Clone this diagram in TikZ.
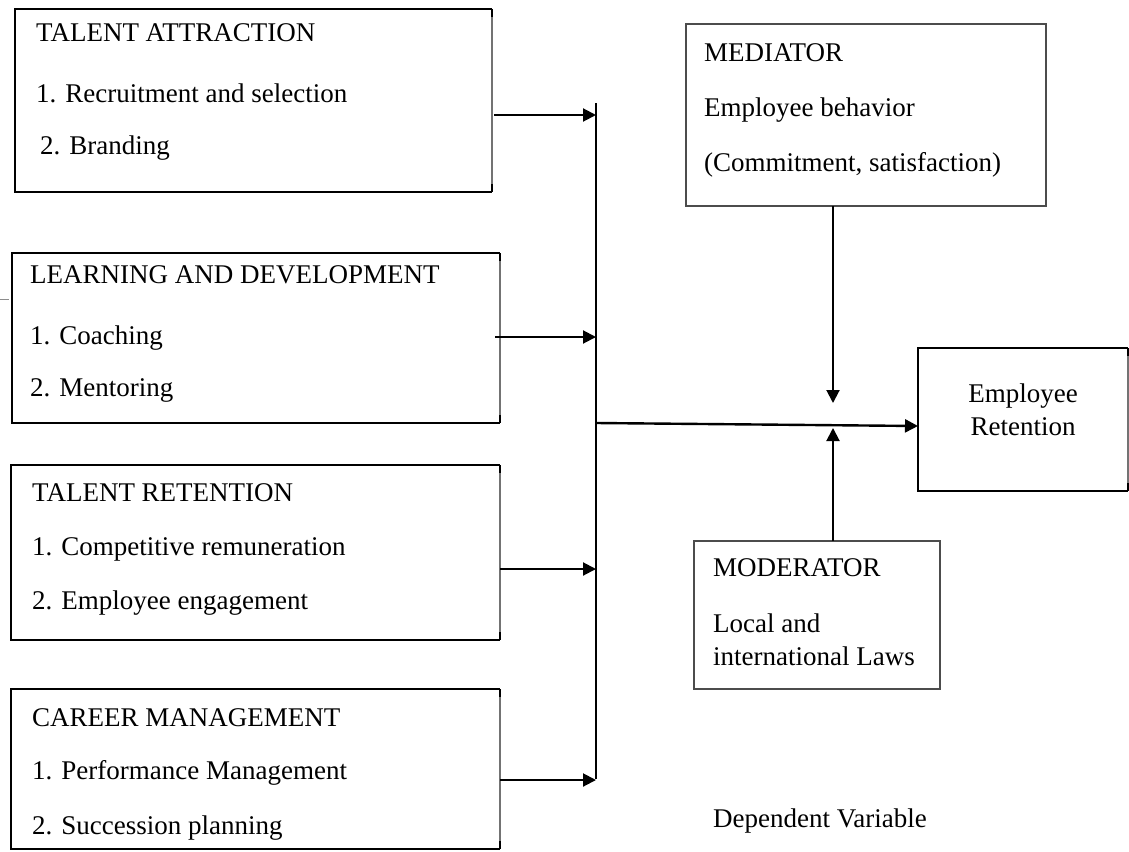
\documentclass[tikz,border=0pt]{standalone}
\usepackage{fontspec}
\setmainfont{Liberation Serif}
\usetikzlibrary{arrows.meta}
\begin{document}
\begin{tikzpicture}[x=1pt,y=-1pt,
  area/.style={inner sep=0pt, outer sep=0pt, anchor=north west},
  frame/.style={draw=black, line width=2.6pt},
  redge/.style={draw=black!55, line width=1.1pt},
  thinframe/.style={draw=black!70, line width=1.5pt},
  lbl/.style={anchor=base west, inner sep=0pt, font=\fontsize{27}{33}\selectfont},
  clbl/.style={anchor=base, inner sep=0pt, font=\fontsize{27}{33}\selectfont},
  arr/.style={draw=black, line width=2pt, -{Triangle[length=13pt,width=13pt]}},
  bus/.style={draw=black, line width=2.5pt}
]
\useasboundingbox (0,0) rectangle (1129,851);

% independent-variable boxes
\node[area, minimum width=477pt, minimum height=183pt] (ta) at (15,9) {};
\node[area, minimum width=488pt, minimum height=170pt] (ld) at (12,253) {};
\node[area, minimum width=489pt, minimum height=175pt] (tr) at (11,465) {};
\node[area, minimum width=489pt, minimum height=160pt] (cm) at (11,689) {};
% dependent variable
\node[area, minimum width=210pt, minimum height=143pt] (er) at (918,348) {};
% mediator and moderator
\node[area, thinframe, minimum width=360pt, minimum height=182pt] (med) at (686,24) {};
\node[area, thinframe, minimum width=246pt, minimum height=148pt] (mod) at (694,541) {};

% heavy frames with a lighter right side
\foreach \b in {ta,ld,tr,cm,er}{
  \draw[frame] (\b.north east) -- (\b.north west) -- (\b.south west) -- (\b.south east);
  \draw[redge] (\b.north east) -- (\b.south east);
  \draw[frame] (\b.north east) -- ([yshift=-8pt]\b.north east);
  \draw[frame] ([yshift=8pt]\b.south east) -- (\b.south east);
}

% stray tick at the left margin
\draw[black!45, line width=1pt] (0,299) -- (9,299);

% texts
\node[lbl] (ta1) at (36,42)  {TALENT ATTRACTION};
\node[lbl] (ta2) at (36,102) {1. Recruitment and selection};
\node[lbl] (ta3) at (40,154) {2. Branding};

\node[lbl] (ld1) at (30,283) {LEARNING AND DEVELOPMENT};
\node[lbl] (ld2) at (30,344) {1. Coaching};
\node[lbl] (ld3) at (30,396) {2. Mentoring};

\node[lbl] (tr1) at (32,501) {TALENT RETENTION};
\node[lbl] (tr2) at (32,555) {1. Competitive remuneration};
\node[lbl] (tr3) at (32,609) {2. Employee engagement};

\node[lbl] (cm1) at (32,726) {CAREER MANAGEMENT};
\node[lbl] (cm2) at (32,779) {1. Performance Management};
\node[lbl] (cm3) at (32,834) {2. Succession planning};

\node[lbl] (med1) at (704,61)  {MEDIATOR};
\node[lbl] (med2) at (704,116) {Employee behavior};
\node[lbl] (med3) at (704,171) {(Commitment, satisfaction)};

\node[lbl] (mod1) at (713,576) {MODERATOR};
\node[lbl] (mod2) at (713,632) {Local and};
\node[lbl] (mod3) at (713,665) {international Laws};

\node[clbl] (er1) at (1023,402) {Employee};
\node[clbl] (er2) at (1023,435) {Retention};

\node[lbl] (dv) at (713,827) {Dependent Variable};

% collecting bus
\coordinate (bt) at (596,103);
\coordinate (b1) at (596,115);
\coordinate (b2) at (596,337);
\coordinate (b3) at (596,569);
\coordinate (b4) at (596,780);
\coordinate (bj) at (596,423);
\coordinate (mj) at (833,425);

\draw[bus] (bt) -- ([yshift=1.2pt]b4);

\draw[arr] ([xshift=2pt]ta.east |- b1) -- (b1);
\draw[arr] ([xshift=-5pt]ld.east |- b2) -- (b2);
\draw[arr] (tr.east |- b3) -- (b3);
\draw[arr] (cm.east |- b4) -- (b4);

% main path to the outcome
\draw[arr, line width=2.4pt] (bj) -- ([yshift=-6.5pt]er.west);

% mediator and moderator effects on the main path
\draw[arr] (med.south -| mj) -- ([yshift=22pt]mj);
\draw[arr] (mod.north -| mj) -- ([yshift=-3pt]mj);
\end{tikzpicture}
\end{document}
